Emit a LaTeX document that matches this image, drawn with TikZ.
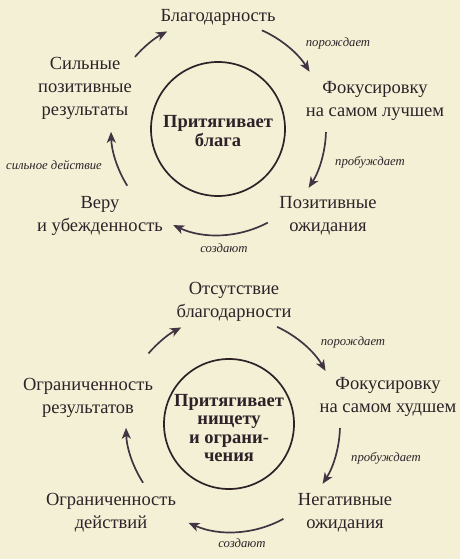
\documentclass[tikz,border=0pt]{standalone}
\usepackage{fontspec}
\setmainfont{Liberation Serif}
\usetikzlibrary{arrows.meta}
\definecolor{bgc}{RGB}{243,240,214}
\definecolor{txt}{RGB}{46,34,40}
\definecolor{arc}{RGB}{66,52,66}
\tikzset{
  lbl/.style={text=txt,align=center,inner sep=0pt,font=\fontsize{18.5}{23}\selectfont},
  mid/.style={text=txt,align=center,inner sep=0pt,font=\bfseries\fontsize{18.5}{18.5}\selectfont},
  verb/.style={text=txt,inner sep=0pt,font=\itshape\fontsize{12.7}{14}\selectfont},
  ring/.style={draw=txt,line width=1.7pt,circle,inner sep=0pt},
  arr/.style={draw=arc,line width=1.7pt,-{Stealth[length=11pt,width=9pt,inset=3pt]}}
}
\begin{document}
\begin{tikzpicture}[x=1pt,y=-1pt]
\fill[bgc] (0,0) rectangle (460,559);
\useasboundingbox (0,0) rectangle (460,559);
% ---------- top cycle ----------
\node[ring,minimum size=134pt] (c1) at (218,129) {};
\node[mid] (c1t) at (218,131) {Притягивает\\блага};
\node[lbl] (blag) at (218,17) {Благодарность};
\node[lbl] (fok1) at (375,101) {Фокусировку\\на самом лучшем};
\node[lbl] (poz) at (328,216) {Позитивные\\ожидания};
\node[lbl] (veru) at (100,216) {Веру\\и убежденность};
\node[lbl] (sil) at (85,88) {Сильные\\позитивные\\результаты};
\coordinate (k1) at (218,129);
\path (k1) ++(-66:108) coordinate (t1s);
\path (k1) ++(1.6:108) coordinate (t2s);
\path (k1) ++(62:106) coordinate (t3s);
\path (k1) ++(-212:107) coordinate (t4s);
\path (k1) ++(-139:110) coordinate (t5s);
\draw[arr] (t1s) arc[start angle=-66,end angle=-32,radius=108];
\draw[arr] (t2s) arc[start angle=1.6,end angle=33,radius=108];
\draw[arr] (t3s) arc[start angle=62,end angle=115,radius=106];
\draw[arr] (t4s) arc[start angle=-212,end angle=-181.5,radius=107];
\draw[arr] (t5s) arc[start angle=-139,end angle=-117.5,radius=110];
\node[verb] (v1) at (338,43) {порождает};
\node[verb] (v2) at (370,162) {пробуждает};
\node[verb] (v3) at (224,248) {создают};
\node[verb] (v4) at (54,165) {сильное действие};
% ---------- bottom cycle ----------
\node[ring,minimum size=130pt] (c2) at (229,424) {};
\node[mid] (c2t) at (229,428) {Притягивает\\нищету\\и ограни-\\чения};
\node[lbl] (ots) at (234,302) {Отсутствие\\благодарности};
\node[lbl] (fok2) at (388,397) {Фокусировку\\на самом худшем};
\node[lbl] (neg) at (345,513) {Негативные\\ожидания};
\node[lbl] (ogrd) at (111,513) {Ограниченность\\действий};
\node[lbl] (ogrr) at (88,398) {Ограниченность\\результатов};
\coordinate (k2) at (232,425);
\path (k2) ++(-65.3:108) coordinate (b1s);
\path (k2) ++(1.6:108) coordinate (b2s);
\path (k2) ++(61.3:107) coordinate (b3s);
\path (k2) ++(-213:106) coordinate (b4s);
\path (k2) ++(-139.4:110) coordinate (b5s);
\draw[arr] (b1s) arc[start angle=-65.3,end angle=-30,radius=108];
\draw[arr] (b2s) arc[start angle=1.6,end angle=33,radius=108];
\draw[arr] (b3s) arc[start angle=61.3,end angle=114,radius=107];
\draw[arr] (b4s) arc[start angle=-213,end angle=-181.5,radius=106];
\draw[arr] (b5s) arc[start angle=-139.4,end angle=-117.5,radius=110];
\node[verb] (w1) at (353,342) {порождает};
\node[verb] (w2) at (386,458) {пробуждает};
\node[verb] (w3) at (242,543) {создают};
\end{tikzpicture}
\end{document}
